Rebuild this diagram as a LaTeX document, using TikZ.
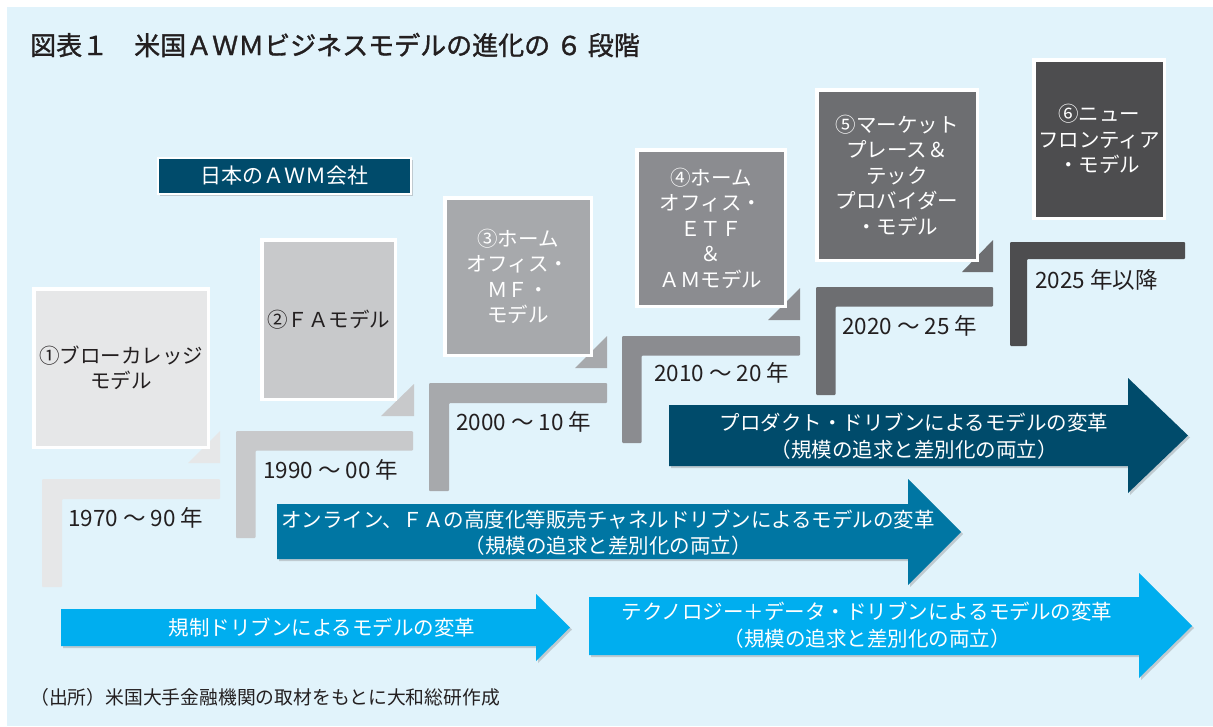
\documentclass[tikz,border=0pt]{standalone}
\usepackage{fontspec}
\setmainfont{Noto Sans CJK JP}
\newfontfamily\titlefont[FakeBold=1.3]{Noto Sans CJK JP}
\usetikzlibrary{shadows}
\definecolor{bgblue}{HTML}{E1F3FB}
\definecolor{txt}{HTML}{231F20}
\definecolor{gA}{HTML}{E6E7E8}
\definecolor{gB}{HTML}{C8C9CB}
\definecolor{gC}{HTML}{A7A9AC}
\definecolor{gD}{HTML}{8B8C90}
\definecolor{gE}{HTML}{6D6E71}
\definecolor{gF}{HTML}{4D4D4F}
\definecolor{navy}{HTML}{004B6B}
\definecolor{teal}{HTML}{0076A3}
\definecolor{cyanA}{HTML}{00AEEF}
\newcommand\stepL[6]{\fill[#6, rounded corners=1pt] (#1,#3) -- (#2,#3) -- (#2,#3+#5) -- (#1+#5,#3+#5) -- (#1+#5,#4) -- (#1,#4) -- cycle;}
\newcommand\stepTri[4]{\fill[#4] (#1,#3) -- (#2,#3) -- (#2,#3-32) -- cycle;}
\newcommand\bigArrow[9]{\fill[#9, drop shadow={shadow xshift=2pt,shadow yshift=-2pt,opacity=.35}] (#1,#2) -- (#4,#2) -- (#4,#5) -- (#7,#8) -- (#4,#6) -- (#4,#3) -- (#1,#3) -- cycle;}
\begin{document}
\begin{tikzpicture}[x=1pt,y=-1pt,
  boxst/.style={draw=white, line width=3.5pt, inner sep=0pt, align=center,
    drop shadow={shadow xshift=1.5pt,shadow yshift=-1.5pt,opacity=.35},
    font=\fontsize{20.5}{25.5}\selectfont},
  yearst/.style={anchor=west, inner sep=0pt, text=txt, font=\fontsize{22.5}{26}\selectfont},
  arrowtxt/.style={inner sep=0pt, align=center, text=white, font=\fontsize{20.5}{26.5}\selectfont}]
\useasboundingbox (0,0) rectangle (1213,726);
\fill[white] (0,0) rectangle (1213,726);
\fill[bgblue] (7,7) rectangle (1213,726);
% title
\node[anchor=west, inner sep=0pt, text=txt, font=\titlefont\fontsize{26}{29}\selectfont] (title) at (30,45) {図表１　米国ＡＷＭビジネスモデルの進化の ６ 段階};
% steps
\stepL{42}{220}{479}{587}{20}{gA}
\stepL{236}{413}{431}{538}{19.5}{gB}
\stepL{429}{607}{383}{491}{20}{gC}
\stepL{622}{800}{336}{443}{19.5}{gD}
\stepL{816}{993}{287}{395}{19.5}{gE}
\stepL{1010}{1185}{242}{346}{17}{gF}
% triangles
\stepTri{188}{220}{463}{gA}
\stepTri{381}{414}{416}{gB}
\stepTri{575}{607}{368}{gC}
\stepTri{768}{800}{320}{gD}
\stepTri{962}{993}{272}{gE}
% boxes
\node[boxst, fill=gA, text=txt, minimum width=174.5, minimum height=158.5] (m1) at (121,368) {①ブローカレッジ\\モデル};
\node[boxst, fill=gB, text=txt, minimum width=133.5, minimum height=159.5] (m2) at (328.5,319.5) {②ＦＡモデル};
\node[boxst, fill=gC, text=white, minimum width=146.5, minimum height=157.5] (m3) at (518,276.5) {③ホーム\\オフィス・\\ＭＦ・\\モデル};
\node[boxst, fill=gD, text=white, minimum width=148.5, minimum height=156.5] (m4) at (711,228) {④ホーム\\オフィス・\\ＥＴＦ\\＆\\ＡＭモデル};
\node[boxst, fill=gE, text=white, minimum width=160.5, minimum height=170.5] (m5) at (897,175) {⑤マーケット\\プレース＆\\テック\\プロバイダー\\・モデル};
\node[boxst, fill=gF, text=white, minimum width=130.5, minimum height=158.5] (m6) at (1099,139) {⑥ニュー\\フロンティア\\・モデル};
% Japan box
\node[draw=white, line width=2pt, fill=navy, text=white, minimum width=253, minimum height=36, inner sep=0pt,
  drop shadow={shadow xshift=1.5pt,shadow yshift=-1.5pt,opacity=.35},
  font=\fontsize{21}{24}\selectfont] (jp) at (284.5,176) {日本のＡＷＭ会社};
% years
\node[yearst] (y1) at (68,518) {1970 ～ 90 年};
\node[yearst] (y2) at (263,470) {1990 ～ 00 年};
\node[yearst] (y3) at (456,422) {2000 ～ 10 年};
\node[yearst] (y4) at (654,373) {2010 ～ 20 年};
\node[yearst] (y5) at (842,326) {2020 ～ 25 年};
\node[yearst] (y6) at (1035,280) {2025 年以降};
% arrows
\bigArrow{669}{405}{466}{1128}{378}{493}{1188}{435.5}{navy}
\bigArrow{277}{504}{559}{908}{479}{585}{961}{532}{teal}
\bigArrow{61}{609}{646}{536}{594}{661}{570}{627.5}{cyanA}
\bigArrow{589}{597}{655}{1139}{573}{678}{1192}{626}{cyanA}
\node[arrowtxt] (a1) at (914,436) {プロダクト・ドリブンによるモデルの変革\\（規模の追求と差別化の両立）};
\node[arrowtxt] (a2) at (608,532.5) {オンライン、ＦＡの高度化等販売チャネルドリブンによるモデルの変革\\（規模の追求と差別化の両立）};
\node[arrowtxt] (a3) at (322,628) {規制ドリブンによるモデルの変革};
\node[arrowtxt] (a4) at (867,625) {テクノロジー＋データ・ドリブンによるモデルの変革\\（規模の追求と差別化の両立）};
% source
\node[anchor=west, inner sep=0pt, text=txt, font=\fontsize{18.8}{21}\selectfont] (src) at (30,697) {（出所）米国大手金融機関の取材をもとに大和総研作成};
\end{tikzpicture}
\end{document}
